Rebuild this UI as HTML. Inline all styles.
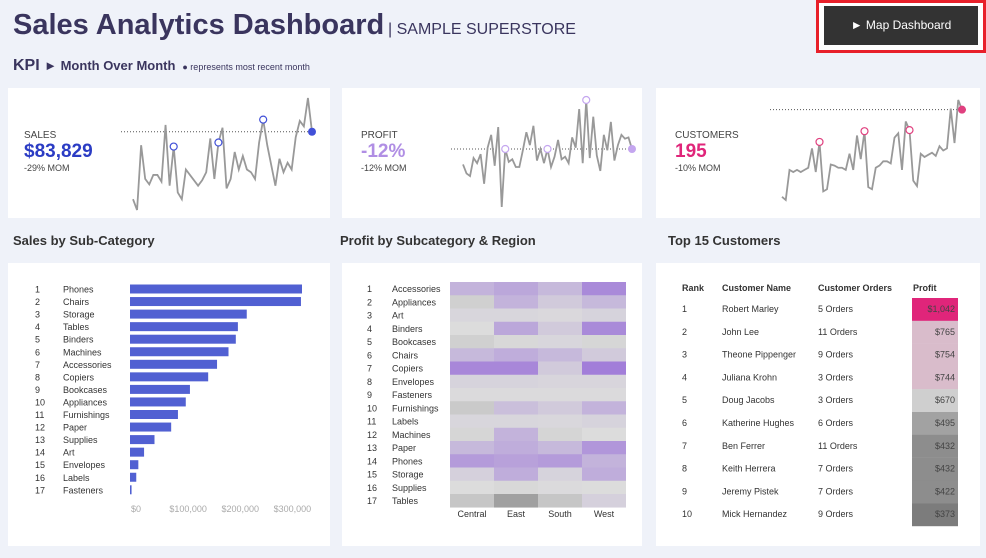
<!DOCTYPE html>
<html><head><meta charset="utf-8">
<style>
*{margin:0;padding:0;box-sizing:border-box}
body{width:986px;height:558px;background:#eff2f9;font-family:"Liberation Sans",sans-serif;position:relative;overflow:hidden;color:#333}
.card{position:absolute;background:#fff}
.abs{position:absolute;white-space:nowrap}
svg{position:absolute;left:0;top:0}
</style></head><body>
<div class="abs" style="left:13px;top:9px;font-size:29px;font-weight:bold;color:#3a355e">Sales Analytics Dashboard</div>
<div class="abs" style="left:388px;top:21px;font-size:16px;color:#3a355e">| SAMPLE SUPERSTORE</div>
<div class="abs" style="left:816px;top:0;width:170px;height:53px;border:3px solid #e8202a;background:#fff"></div>
<div class="abs" style="left:824px;top:6px;width:154px;height:39px;background:#333;color:#fff;font-size:12px;text-align:center;line-height:39px">► Map Dashboard</div>
<div class="abs" style="left:13px;top:57px;color:#3a355e"><span style="font-size:16px;font-weight:bold">KPI</span> <span style="font-size:13px;font-weight:bold">► Month Over Month</span> <span style="font-size:9px">&nbsp;● represents most recent month</span></div>

<div class="card" style="left:8px;top:88px;width:322px;height:130px"></div>
<div class="card" style="left:342px;top:88px;width:300px;height:130px"></div>
<div class="card" style="left:656px;top:88px;width:324px;height:130px"></div>

<div class="abs" style="left:24px;top:130px;font-size:10px;color:#444">SALES</div>
<div class="abs" style="left:24px;top:141px;font-size:19px;font-weight:bold;color:#2b3cc4">$83,829</div>
<div class="abs" style="left:24px;top:163px;font-size:9px;color:#444">-29% MOM</div>
<div class="abs" style="left:361px;top:130px;font-size:10px;color:#444">PROFIT</div>
<div class="abs" style="left:361px;top:141px;font-size:19px;font-weight:bold;color:#b08ee4">-12%</div>
<div class="abs" style="left:361px;top:163px;font-size:9px;color:#444">-12% MOM</div>
<div class="abs" style="left:675px;top:130px;font-size:10px;color:#444">CUSTOMERS</div>
<div class="abs" style="left:675px;top:141px;font-size:19px;font-weight:bold;color:#e0257a">195</div>
<div class="abs" style="left:675px;top:163px;font-size:9px;color:#444">-10% MOM</div>

<div class="abs" style="left:13px;top:233px;font-size:13px;font-weight:bold">Sales by Sub-Category</div>
<div class="abs" style="left:340px;top:233px;font-size:13px;font-weight:bold">Profit by Subcategory &amp; Region</div>
<div class="abs" style="left:668px;top:233px;font-size:13px;font-weight:bold">Top 15 Customers</div>

<div class="card" style="left:8px;top:263px;width:322px;height:283px"></div>
<div class="card" style="left:342px;top:263px;width:300px;height:283px"></div>
<div class="card" style="left:656px;top:263px;width:324px;height:283px"></div>

<svg id="s" width="986" height="558"></svg>
<script>
const salesSpark=[20,12,60,35,31,38,38,33,75,30,59,25,20,42,38,34,30,34,40,65,35,62,73,28,35,55,42,52,42,40,35,62,79,60,45,30,50,40,47,42,66,78,74,95,70];
const salesMarks=[10,21,32];
const profitSpark=[45,38,36,50,46,53,30,58,68,44,74,12,57,47,49,43,43,56,70,60,75,48,57,46,57,43,51,64,49,51,46,66,58,88,46,95,50,82,52,40,68,56,78,48,60,68,65,66,57];
const profitMarks=[12,24,35];
const custSpark=[15,12,40,38,40,38,40,42,60,38,66,20,22,45,44,42,42,40,55,40,72,50,76,24,22,42,44,48,48,46,70,74,40,85,77,30,25,55,52,54,56,53,62,58,60,97,65,105,96];
const custMarks=[10,22,34];
const barCats=["Phones","Chairs","Storage","Tables","Binders","Machines","Accessories","Copiers","Bookcases","Appliances","Furnishings","Paper","Supplies","Art","Envelopes","Labels","Fasteners"];
const barVals=[330000,328000,224000,207000,203000,189000,167000,150000,115000,107000,92000,79000,47000,27000,16000,12000,3000];
const barTicks=[0,100000,200000,300000];
const hmRows=["Accessories","Appliances","Art","Binders","Bookcases","Chairs","Copiers","Envelopes","Fasteners","Furnishings","Labels","Machines","Paper","Phones","Storage","Supplies","Tables"];
const hmCols=["Central","East","South","West"];
const hmVals=[[.35,.45,.3,.7],[-.1,.35,.15,.3],[.05,.05,.03,.08],[0,.45,.15,.7],[-.1,-.03,.05,-.05],[.3,.4,.3,.15],[.72,.72,.15,.8],[.08,.08,.06,.06],[.02,.02,.02,.02],[-.15,.25,.15,.35],[.05,.05,.04,.08],[-.05,.35,-.06,0],[.3,.4,.3,.6],[.55,.5,.55,.35],[.1,.4,.08,.4],[0,-.03,.02,0],[-.18,-.5,-.18,.1]];
const custNames=["Robert Marley","John Lee","Theone Pippenger","Juliana Krohn","Doug Jacobs","Katherine Hughes","Ben Ferrer","Keith Herrera","Jeremy Pistek","Mick Hernandez"];
const custOrders=[5,11,9,3,3,6,11,7,7,9];
const custProfit=[1042,765,754,744,670,495,432,432,422,373];

const S=document.getElementById('s');const NS='http://www.w3.org/2000/svg';
function mk(t,a,n,p){const e=document.createElementNS(NS,t);for(const k in a)e.setAttribute(k,a[k]);


(p||S).appendChild(e);return e;}
function txt(x,y,s,a,n){const e=mk('text',Object.assign({x:x,y:y,'font-size':9,fill:'#333','font-family':'Liberation Sans, sans-serif'},a),n);e.textContent=s;return e;}
function spark(d,marks,x0,x1,y0,y1,col,name){const mn=Math.min(...d),mx=Math.max(...d);
const X=i=>x0+(x1-x0)*i/(d.length-1),Y=v=>y0-(y0-y1)*(v-mn)/(mx-mn);
const last=d[d.length-1];
mk('line',{x1:x0-12,x2:x1+4,y1:Y(last),y2:Y(last),stroke:'#555','stroke-width':1,'stroke-dasharray':'1,2'},name+'-reference-line');
mk('polyline',{points:d.map((v,i)=>X(i)+','+Y(v)).join(' '),fill:'none',stroke:'#999','stroke-width':1.8},name+'-sparkline');
marks.forEach(i=>mk('circle',{cx:X(i),cy:Y(d[i]),r:3.5,fill:'#fff',stroke:col,'stroke-width':1.2},name+'-month-marker'));
mk('circle',{cx:X(d.length-1),cy:Y(last),r:4,fill:col},name+'-current-marker');}
spark(salesSpark,salesMarks,133,312,210,98,'#4150d8','sales');
spark(profitSpark,profitMarks,463,632,207,100,'#c4a6ef','profit');
spark(custSpark,custMarks,782,962,200,100,'#e0407f','customers');

const bx=130,bs=172/330000,by0=289,bh=12.55;
barCats.forEach((c,i)=>{const y=by0+i*bh;
txt(35,y+3.5,String(i+1),{},'bar-rank');txt(63,y+3.5,c,{},'bar-label');
mk('rect',{x:bx,y:y-4.5,width:barVals[i]*bs,height:9,fill:'#5160d2'},'bar-'+c.toLowerCase());});
barTicks.forEach(t=>txt(bx+t*bs+6,512,t?'$'+t.toLocaleString('en-US'):'$0',{'text-anchor':'middle',fill:'#aaa'},'x-tick-label'));

const hx=450,hw=44,hy=282,hh=13.25;
function hcol(v){const g=[220,220,220];let c;if(v>=0){const p=[162,126,217];c=g.map((a,k)=>Math.round(a+(p[k]-a)*Math.min(1,v/0.8)));}else{c=g.map(a=>Math.round(a-(a-160)*Math.min(1,-v/0.5)));}return 'rgb('+c+')';}
hmRows.forEach((r,i)=>{const y=hy+i*hh;txt(367,y+10,String(i+1),{},'heatmap-rank');txt(392,y+10,r,{},'heatmap-row-label');
hmCols.forEach((c,j)=>mk('rect',{x:hx+j*hw,y:y,width:hw,height:hh+0.3,fill:hcol(hmVals[i][j])},'heatmap-cell'));});
hmCols.forEach((c,j)=>txt(hx+j*hw+hw/2,517,c,{'text-anchor':'middle'},'heatmap-col-label'));

txt(682,291,'Rank',{'font-weight':'bold'},'col-header-rank');txt(722,291,'Customer Name',{'font-weight':'bold'},'col-header-name');
txt(818,291,'Customer Orders',{'font-weight':'bold'},'col-header-orders');txt(913,291,'Profit',{'font-weight':'bold'},'col-header-profit');
const pc=v=>v>=1000?'#e0257a':v>=700?'#d9bccb':v>=600?'#cfcfcf':v>=480?'#a2a2a2':v>=400?'#8d8d8d':'#7c7c7c';
custNames.forEach((n,i)=>{const y=298+i*22.8;
mk('rect',{x:912,y:y,width:46,height:23,fill:pc(custProfit[i])},'profit-cell');
txt(682,y+14,String(i+1),{},'table-rank');txt(722,y+14,n,{},'table-customer-name');txt(818,y+14,custOrders[i]+' Orders',{},'table-orders');
txt(955,y+14,'$'+custProfit[i].toLocaleString('en-US'),{'text-anchor':'end',fill:'#444'},'table-profit');});
</script>
</body></html>
